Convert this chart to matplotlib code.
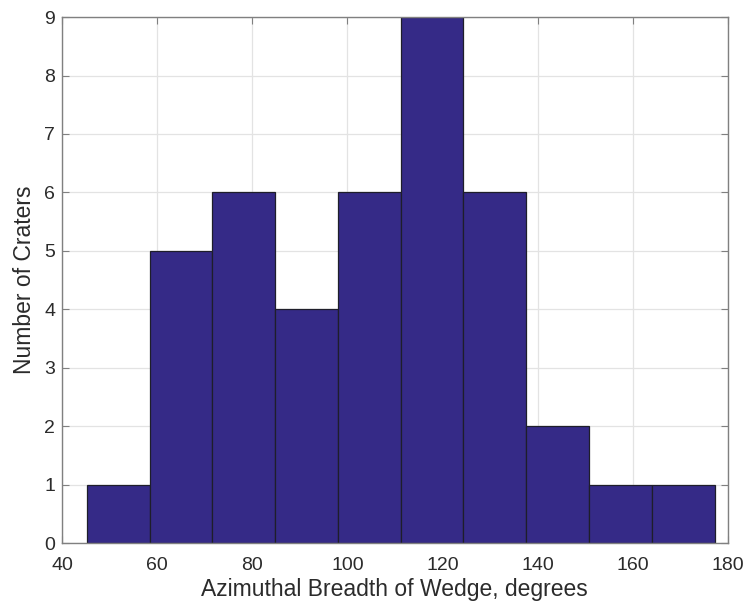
import matplotlib.pyplot as plt
import numpy as np

# histogram of crater wedge breadths (bin edges in degrees, counts per bin)
bin_edges = [45.2, 58.4, 71.6, 84.8, 98.0, 111.2, 124.4, 137.6, 150.8, 164.0, 177.3]
counts = [1, 5, 6, 4, 6, 9, 6, 2, 1, 1]

plt.rcParams['font.family'] = ['Liberation Sans', 'DejaVu Sans']

fig = plt.figure(figsize=(7.49, 6.10), dpi=100)
ax = fig.add_axes([0.0828, 0.1098, 0.8888, 0.8622])

edges = np.array(bin_edges)
ax.bar(edges[:-1], counts, width=np.diff(edges), align='edge',
       color='#352a87', edgecolor='#1e1e2a', linewidth=0.9, zorder=3)

ax.set_xlim(40, 180)
ax.set_ylim(0, 9)
ax.set_xticks(range(40, 181, 20))
ax.set_yticks(range(0, 10))
ax.grid(True, color='#e3e3e3', linewidth=0.9, zorder=0)
ax.set_axisbelow(True)

for s in ax.spines.values():
    s.set_color('#808080')
    s.set_linewidth(1.0)
    s.set_zorder(4)
ax.tick_params(direction='in', top=True, right=True, length=5, width=0.8,
               color='#808080', labelcolor='#2b2b2b', labelsize=14, pad=5)
ax.tick_params(axis='x', pad=10)

ax.set_xlabel('Azimuthal Breadth of Wedge, degrees', fontsize=16.5, color='#2b2b2b', labelpad=3)
ax.set_ylabel('Number of Craters', fontsize=16.5, color='#2b2b2b', labelpad=6)

fig.savefig('out.png', dpi=100)
